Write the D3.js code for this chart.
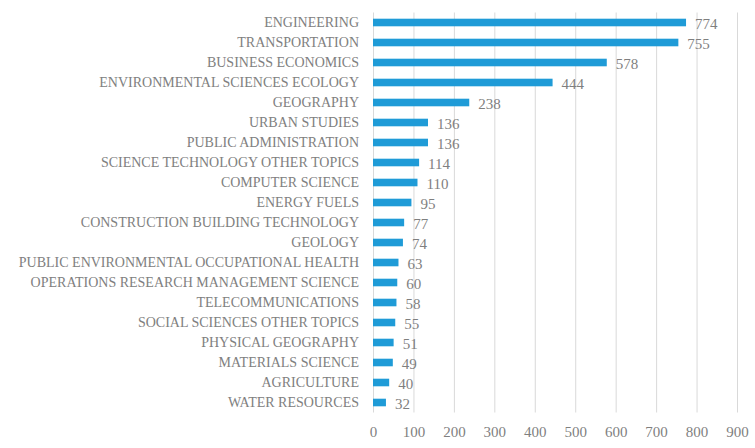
<!DOCTYPE html>
<html>
<head>
<meta charset="utf-8">
<script src="https://cdnjs.cloudflare.com/ajax/libs/d3/7.8.5/d3.min.js"></script>
<style>
  body { margin: 0; background: #fff; }
  svg text { font-family: "Liberation Serif", "DejaVu Serif", serif; fill: #7f7f7f; }
</style>
</head>
<body>
<svg width="755" height="448"></svg>
<script>
var categories = [
  "ENGINEERING", "TRANSPORTATION", "BUSINESS ECONOMICS",
  "ENVIRONMENTAL SCIENCES ECOLOGY", "GEOGRAPHY", "URBAN STUDIES",
  "PUBLIC ADMINISTRATION", "SCIENCE TECHNOLOGY OTHER TOPICS",
  "COMPUTER SCIENCE", "ENERGY FUELS", "CONSTRUCTION BUILDING TECHNOLOGY",
  "GEOLOGY", "PUBLIC ENVIRONMENTAL OCCUPATIONAL HEALTH",
  "OPERATIONS RESEARCH MANAGEMENT SCIENCE", "TELECOMMUNICATIONS",
  "SOCIAL SCIENCES OTHER TOPICS", "PHYSICAL GEOGRAPHY",
  "MATERIALS SCIENCE", "AGRICULTURE", "WATER RESOURCES"
];
var counts = [774, 755, 578, 444, 238, 136, 136, 114, 110, 95, 77, 74, 63, 60, 58, 55, 51, 49, 40, 32];
var xTicks = [0, 100, 200, 300, 400, 500, 600, 700, 800, 900];

var svg = d3.select("svg");
var padding = { top: 12.5, right: 18, bottom: 35.5, left: 373 };
var width = +svg.attr("width");
var height = +svg.attr("height");

var data = categories.map((c, i) => ({ key: c, value: counts[i] }));

var xScale = d3.scaleLinear()
  .domain([0, 900])
  .range([padding.left, padding.left + 364]);

var yScale = d3.scaleBand()
  .domain(categories)
  .range([padding.top, height - padding.bottom])
  .paddingInner(0.62)
  .paddingOuter(0.31);

// gridlines
svg.append("g")
  .selectAll("line")
  .data(xTicks)
  .enter()
  .append("line")
    .attr("x1", d => xScale(d) + 0.5)
    .attr("x2", d => xScale(d) + 0.5)
    .attr("y1", padding.top)
    .attr("y2", height - padding.bottom)
    .style("stroke", "#d9d9d9")
    .style("stroke-width", 1);

// x axis labels
var xAxis = svg.append("g")
  .attr("transform", `translate(0, ${height - padding.bottom})`)
  .call(d3.axisBottom(xScale).tickValues(xTicks).tickSize(0).tickPadding(14));
xAxis.select(".domain").remove();
xAxis.selectAll("text")
  .style("font-size", "15px")
  .style("fill", "#7f7f7f")
  .style("font-family", "'Liberation Serif', serif");

// category labels
var yAxis = svg.append("g")
  .attr("transform", `translate(${padding.left}, 0)`)
  .call(d3.axisLeft(yScale).tickSize(0).tickPadding(14));
yAxis.select(".domain").remove();
yAxis.selectAll("text")
  .style("font-size", "14px")
  .style("fill", "#808080")
  .style("font-family", "'Liberation Serif', serif");

// bars
svg.append("g")
  .selectAll("rect")
  .data(data)
  .enter()
  .append("rect")
    .attr("x", xScale(0))
    .attr("y", d => yScale(d.key))
    .attr("width", d => xScale(d.value) - xScale(0))
    .attr("height", yScale.bandwidth())
    .style("fill", "#1f9bd7");

// value labels
svg.append("g")
  .selectAll("text")
  .data(data)
  .enter()
  .append("text")
    .attr("x", d => xScale(d.value) + 9)
    .attr("y", d => yScale(d.key) + yScale.bandwidth() / 2 + 1.5)
    .attr("dy", "0.35em")
    .style("font-size", "15px")
    .text(d => d.value);
</script>
</body>
</html>
